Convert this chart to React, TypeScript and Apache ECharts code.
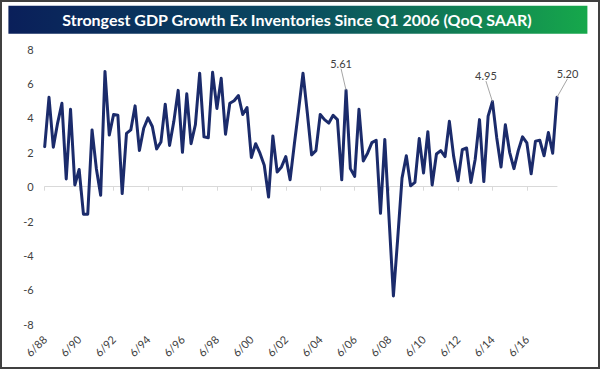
import React, { useEffect, useRef } from "react";
import * as echarts from "echarts";

// Quarterly real GDP growth ex inventories (QoQ SAAR), 6/88 .. 3/18
const gdpExInv: number[] = [
  2.33, 5.2, 2.3, 3.7, 4.85, 0.45, 4.5, 0.1, 1.0, -1.6,
  -1.6, 3.3, 1.05, -0.5, 6.7, 3.0, 4.2, 4.15, -0.4, 3.1,
  3.3, 4.7, 2.1, 3.4, 4.0, 3.5, 2.2, 2.6, 4.8, 2.4,
  3.8, 5.6, 2.0, 5.4, 2.5, 3.6, 6.6, 2.9, 2.85, 6.65,
  4.55, 6.3, 3.05, 4.85, 5.0, 5.3, 4.2, 4.6, 1.7, 2.5,
  1.95, 1.25, -0.6, 2.95, 0.85, 1.15, 1.75, 0.4, 2.5, 4.5,
  6.6, 4.3, 1.85, 2.1, 4.2, 3.9, 3.7, 4.15, 3.9, 0.4,
  5.61, 1.05, 0.6, 4.5, 1.5, 1.95, 2.56, 2.7, -1.55, 2.75,
  -1.9, -6.35, -3.0, 0.5, 1.8, 0.05, 0.25, 2.8, 0.8, 3.2,
  0.1, 1.9, 2.1, 1.75, 3.8, 1.75, 0.35, 2.15, 2.25, 0.25,
  1.6, 3.9, 0.3, 4.1, 4.95, 2.85, 1.15, 3.6, 2.0, 1.05,
  2.1, 2.9, 2.55, 0.75, 2.65, 2.7, 1.8, 3.15, 1.95, 5.2,
];

const quarterMonths: number[] = [6, 9, 12, 3];
const startYear = 1988;

// annotated points and their label offsets (dx, dy) from default "top" position
const annotatedIdx: number[] = [70, 104, 119];
const annotatedDx: number[] = [-5, -6.5, 10.5];
const annotatedDy: number[] = [-16.5, -15.5, -13.5];

const yTickMin = -8;
const yTickMax = 8;
const yTickStep = 2;

const titleText = "Strongest GDP Growth Ex Inventories Since Q1 2006 (QoQ SAAR)";

function buildCategories(n: number): string[] {
  const out: string[] = [];
  for (let i = 0; i < n; i++) {
    const m = quarterMonths[i % 4];
    const y2 = (startYear + Math.floor((i + 1) / 4)) % 100;
    out.push(m + "/" + String(y2).padStart(2, "0"));
  }
  return out;
}

export default function App() {
  const ref = useRef<HTMLDivElement>(null);
  useEffect(() => {
    if (!ref.current) return;
    const chart = echarts.init(ref.current, undefined, { renderer: "svg" });
    const categories = buildCategories(gdpExInv.length);
    const FONT = "Lato, 'Open Sans', sans-serif";
    const lineColor = "#1b2b6b";

    const seriesData = gdpExInv.map((v, i) => {
      const k = annotatedIdx.indexOf(i);
      if (k < 0) return v;
      return {
        value: v,
        label: {
          show: true,
          position: "top",
          distance: 5,
          formatter: (p: any) => Number(p.value).toFixed(2),
          fontFamily: FONT,
          fontSize: 11,
          color: "#404040",
        },
        labelLine: { show: true, lineStyle: { color: "#a6a6a6", width: 1 } },
      };
    });

    chart.setOption({
      animation: false,
      backgroundColor: "#ffffff",
      grid: { left: 44.7, right: 43, top: 49.1, bottom: 44.7, containLabel: false },
      graphic: [
        {
          type: "rect",
          shape: { x: 1, y: 1, width: 598, height: 367 },
          style: { fill: "none", stroke: "#404040", lineWidth: 2 },
          z: 100,
        },
        {
          type: "rect",
          shape: { x: 8.4, y: 5.7, width: 579, height: 28 },
          style: {
            fill: new echarts.graphic.LinearGradient(0, 0, 1, 0, [
              { offset: 0, color: "#0a1f5a" },
              { offset: 0.5, color: "#0a4a60" },
              { offset: 1, color: "#16a84b" },
            ]),
          },
        },
        {
          type: "text",
          x: 297,
          y: 19.7,
          style: {
            text: titleText,
            fill: "#ffffff",
            font: "bold 16px " + FONT,
            textAlign: "center",
            textVerticalAlign: "middle",
          },
        },
      ],
      xAxis: [
        {
          type: "category",
          data: categories,
          boundaryGap: false,
          axisLine: { show: true, onZero: true, lineStyle: { color: "#d9d9d9", width: 1 } },
          axisTick: { show: true, interval: 7, length: 4, lineStyle: { color: "#d9d9d9" } },
          axisLabel: { show: false },
          splitLine: { show: false },
        },
        {
          type: "category",
          data: categories,
          boundaryGap: false,
          position: "bottom",
          axisLine: { show: false, onZero: false },
          axisTick: { show: false },
          axisLabel: {
            show: true,
            interval: 7,
            rotate: 45,
            margin: 13,
            fontFamily: FONT,
            fontSize: 11,
            color: "#404040",
          },
          splitLine: { show: false },
        },
      ],
      yAxis: {
        type: "value",
        min: yTickMin,
        max: yTickMax,
        interval: yTickStep,
        axisLine: { show: false },
        axisTick: { show: false },
        splitLine: { show: false },
        axisLabel: { fontFamily: FONT, fontSize: 11, color: "#404040", margin: 11 },
      },
      series: [
        {
          type: "line",
          xAxisIndex: 0,
          data: seriesData,
          symbol: "circle",
          symbolSize: 0.01,
          showSymbol: true,
          showAllSymbol: true,
          itemStyle: { color: lineColor },
          lineStyle: { color: lineColor, width: 3, cap: "round", join: "round" },
          labelLayout: (p: any) => {
            const k = annotatedIdx.indexOf(p.dataIndex);
            if (k < 0) return {};
            return { dx: annotatedDx[k], dy: annotatedDy[k] };
          },
          z: 5,
        },
      ],
    });
    return () => chart.dispose();
  }, []);
  return (
    <div style={{ position: "absolute", left: 0, top: 0, width: 600, height: 369 }}>
      <div ref={ref} style={{ width: 600, height: 369 }} />
    </div>
  );
}
